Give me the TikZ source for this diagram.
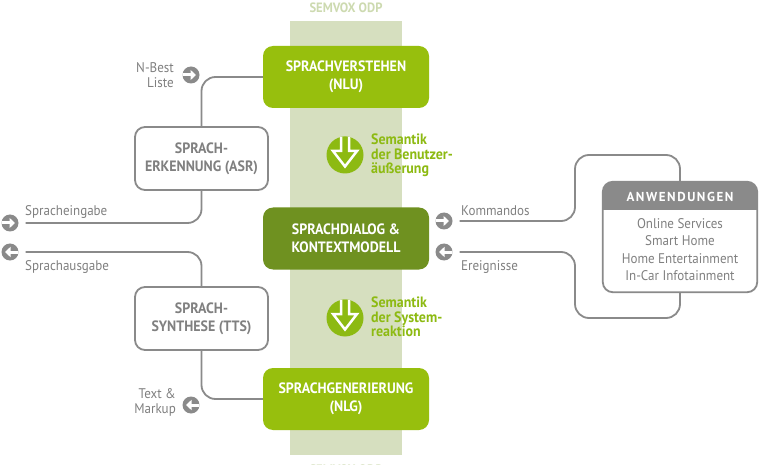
\documentclass[tikz,border=0pt]{standalone}
\usepackage{fontspec}
\setmainfont{PT Sans}
\newfontfamily\narrowfont[FakeStretch=0.93]{PT Sans}
\usetikzlibrary{arrows.meta}
\definecolor{lime}{HTML}{97BF0D}
\definecolor{olive}{HTML}{6F9120}
\definecolor{band}{HTML}{D6DFBF}
\definecolor{bandtxt}{HTML}{CDDAB0}
\definecolor{semgreen}{HTML}{8DBA12}
\definecolor{lgray}{HTML}{8A8A8A}
\definecolor{tgray}{HTML}{808080}
\begin{document}
\begin{tikzpicture}[x=1pt,y=-1pt,
  greenbox/.style={rounded corners=10pt, fill=lime, minimum width=166pt, minimum height=62pt,
    text=white, font=\narrowfont\bfseries\fontsize{15}{18}\selectfont, align=center, inner sep=0pt},
  graybox/.style={rounded corners=10pt, draw=lgray, line width=1.8pt, fill=white,
    minimum width=133pt, minimum height=63pt, text=tgray,
    font=\narrowfont\bfseries\fontsize{15}{18}\selectfont, align=center, inner sep=0pt},
  conn/.style={draw=lgray, line width=1.8pt, rounded corners=14pt},
  lbl/.style={text=tgray, font=\narrowfont\fontsize{14}{15}\selectfont, inner sep=0pt},
  semtxt/.style={text=semgreen, font=\narrowfont\bfseries\fontsize{15}{14.5}\selectfont, align=left, inner sep=0pt, anchor=north west},
  iconr/.style={circle, fill=lgray, minimum size=17pt, inner sep=0pt,
    path picture={\draw[white, line width=3pt, -{Triangle[length=5.5pt,width=10pt]}]
      ([xshift=-10pt]path picture bounding box.center) -- ([xshift=5pt]path picture bounding box.center);}},
  iconl/.style={circle, fill=lgray, minimum size=17pt, inner sep=0pt,
    path picture={\draw[white, line width=3pt, -{Triangle[length=5.5pt,width=10pt]}]
      ([xshift=10pt]path picture bounding box.center) -- ([xshift=-5pt]path picture bounding box.center);}},
  bigc/.style={circle, fill=semgreen, minimum size=37pt, inner sep=0pt}
]
\clip (0,0) rectangle (763,465);
\fill[white] (0,0) rectangle (763,465);

% band
\fill[band] (290,21) rectangle (402,455);
\node[text=bandtxt, font=\narrowfont\bfseries\fontsize{13.5}{15}\selectfont] (odptop) at (346,8) {SEMVOX ODP};
\node[text=bandtxt, font=\narrowfont\bfseries\fontsize{13.5}{15}\selectfont] (odpbot) at (346,470) {SEMVOX ODP};

% main boxes
\node[greenbox] (nlu) at (346,77) {SPRACHVERSTEHEN\\(NLU)};
\node[greenbox, fill=olive] (dlg) at (346,238.5) {SPRACHDIALOG \&\\KONTEXTMODELL};
\node[greenbox] (nlg) at (346,399) {SPRACHGENERIERUNG\\(NLG)};

\node[graybox] (asr) at (201.5,158.5) {SPRACH-\\ERKENNUNG (ASR)};
\node[graybox] (tts) at (201.5,318.5) {SPRACH-\\SYNTHESE (TTS)};

% semantic arrows
\node[bigc] (s1) at (345,155) {};
\begin{scope}
  \clip (s1.center) circle (18.5pt);
  \begin{scope}[shift={(s1.center)}]
    \filldraw[fill=semgreen, draw=white, line width=2.5pt, line join=miter]
      (-4,-24) -- (4,-24) -- (4,-4) -- (12,-4) -- (0,11.5) -- (-12,-4) -- (-4,-4) -- cycle;
  \end{scope}
\end{scope}
\node[semtxt] (t1) at (371,134) {Semantik\\der Benutzer-\\äußerung};

\node[bigc] (s2) at (345,318) {};
\begin{scope}
  \clip (s2.center) circle (18.5pt);
  \begin{scope}[shift={(s2.center)}]
    \filldraw[fill=semgreen, draw=white, line width=2.5pt, line join=miter]
      (-4,-24) -- (4,-24) -- (4,-4) -- (12,-4) -- (0,11.5) -- (-12,-4) -- (-4,-4) -- cycle;
  \end{scope}
\end{scope}
\node[semtxt] (t2) at (371,297) {Semantik\\der System-\\reaktion};

% left icons and labels
\node[iconr] (nbest) at (191,75) {};
\node[lbl, align=right, anchor=east] (nbestl) at (174,75.5) {N-Best\\Liste};
\node[iconr] (ein) at (10,223) {};
\node[lbl, anchor=base west] (einl) at (25,216) {Spracheingabe};
\node[iconl] (aus) at (10,252) {};
\node[lbl, anchor=base west] (ausl) at (25,270) {Sprachausgabe};
\node[iconl] (txt) at (191,405) {};
\node[lbl, align=right, anchor=east] (txtl) at (176,402.5) {Text \&\\Markup};

% left connectors
\draw[conn] (nlu.west) -| (asr.north);
\draw[conn] ([xshift=7pt]ein.east) -| (asr.south);
\draw[conn] ([xshift=7pt]aus.east) -| (tts.north);
\draw[conn] (tts.south) |- (nlg.west);

% application box
\node[rounded corners=10pt, minimum width=154pt, minimum height=110pt, inner sep=0pt] (app) at (680,237) {};
\begin{scope}
  \clip[rounded corners=10pt] (app.north west) rectangle (app.south east);
  \fill[lgray] (app.north west) rectangle ([yshift=-28pt]app.north east);
\end{scope}
\draw[draw=lgray, line width=1.8pt, rounded corners=10pt] (app.north west) rectangle (app.south east);
\node[text=white, font=\bfseries\fontsize{13}{15}\selectfont\addfontfeatures{LetterSpace=12}] (apph) at (680,197) {ANWENDUNGEN};
\node[text=tgray, font=\narrowfont\fontsize{14}{17.3}\selectfont, align=center, inner sep=0pt] (appi) at (680,249.5)
  {Online Services\\Smart Home\\Home Entertainment\\In-Car Infotainment};

% right icons and connectors
\node[iconr] (kom) at (444,221) {};
\node[lbl, anchor=base west] (koml) at (461,216) {Kommandos};
\node[iconl] (ere) at (444,252) {};
\node[lbl, anchor=base west] (erel) at (461,270) {Ereignisse};
\draw[conn] ([xshift=7pt]kom.east) -| (575,155) -| (app.north);
\draw[conn] ([xshift=7pt]ere.east) -| (575,318) -| (app.south);
\end{tikzpicture}
\end{document}
